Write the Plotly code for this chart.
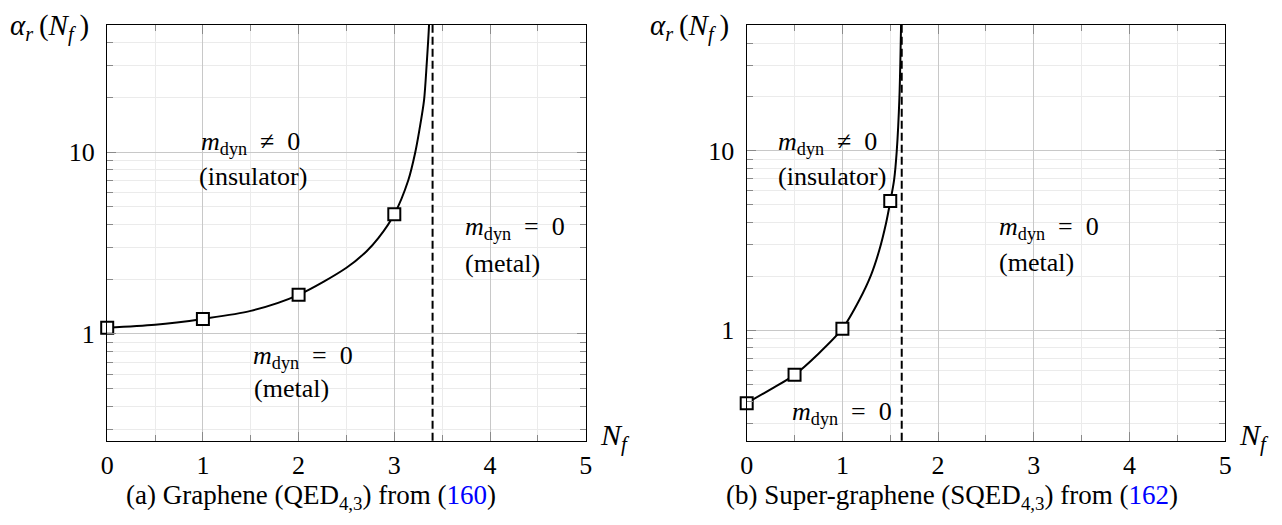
import math
import plotly.graph_objects as go

# ---------------- data ----------------
# (a) Graphene QED_{4,3}
nf_curve_a = [0.0, 0.5, 1.0, 1.5, 2.0, 2.5, 2.711, 2.833, 3.0, 3.147, 3.217, 3.262, 3.311, 3.339, 3.363, 3.372]
alpha_curve_a = [1.083, 1.123, 1.21, 1.339, 1.64, 2.31, 2.85, 3.36, 4.55, 7.02, 9.84, 13.2, 19.3, 30.7, 50.0, 70.0]
nf_marks_a = [0, 1, 2, 3]
alpha_marks_a = [1.083, 1.21, 1.64, 4.55]
nc_a = 3.40

# (b) Super-graphene SQED_{4,3}
nf_curve_b = [0.0, 0.25, 0.5, 0.75, 1.0, 1.177, 1.299, 1.386, 1.456, 1.5, 1.54, 1.568, 1.596, 1.613, 1.617]
alpha_curve_b = [0.392, 0.468, 0.564, 0.74, 1.02, 1.475, 2.03, 2.80, 3.95, 5.2, 6.87, 10.0, 20.0, 50.0, 70.0]
nf_marks_b = [0, 0.5, 1, 1.5]
alpha_marks_b = [0.392, 0.564, 1.02, 5.25]
nc_b = 1.62

x_ticks = [0, 1, 2, 3, 4, 5]
x_minor = [0.5, 1.5, 2.5, 3.5, 4.5]
y_ticks = [1, 10]
y_tick_text = ["1", "10"]
y_minor = [0.3, 0.4, 0.5, 0.6, 0.7, 0.8, 0.9, 2, 3, 4, 5, 6, 7, 8, 9, 20, 30, 40, 50]
y_range_a = [0.259, 49.9]
y_range_b = [0.242, 50.4]

# page has an 8px body margin: work in page pixels, convert to figure fractions
OFF = 8
W, H = 1282 - 2 * OFF, 525 - 2 * OFF
FONT = "Liberation Serif, Times New Roman, serif"
FS = 26


def fx(px):
    return (px - OFF) / W


def fy(py):
    return 1 - (py - OFF) / H


fig = go.Figure()


def add_panel(xa, ya, nf_c, al_c, nf_m, al_m):
    fig.add_trace(go.Scatter(x=nf_c, y=al_c, mode="lines",
                             line=dict(color="black", width=2, shape="spline", smoothing=0.8),
                             xaxis=xa, yaxis=ya, showlegend=False, hoverinfo="skip"))
    fig.add_trace(go.Scatter(x=nf_m, y=al_m, mode="markers",
                             marker=dict(symbol="square", size=12, color="white",
                                         line=dict(color="black", width=2)),
                             xaxis=xa, yaxis=ya, showlegend=False, cliponaxis=False))


add_panel("x", "y", nf_curve_a, alpha_curve_a, nf_marks_a, alpha_marks_a)
add_panel("x2", "y2", nf_curve_b, alpha_curve_b, nf_marks_b, alpha_marks_b)


def xaxis_cfg(dom, anchor):
    return dict(domain=dom, anchor=anchor, range=[0, 5], tickmode="array", tickvals=x_ticks,
                ticks="inside", ticklen=9, tickcolor="#8a8a8a", tickwidth=1,
                showgrid=True, gridcolor="#c8c8c8", gridwidth=1,
                showline=True, linecolor="black", linewidth=1.3, mirror="ticks",
                zeroline=False, tickfont=dict(family=FONT, size=FS, color="black"),
                ticklabelstandoff=1,
                minor=dict(tickmode="array", tickvals=x_minor, ticks="inside", ticklen=6,
                           tickcolor="#8a8a8a", showgrid=True, gridcolor="#ebebeb", gridwidth=1))


def yaxis_cfg(dom, rng, anchor):
    return dict(domain=dom, type="log", range=[math.log10(rng[0]), math.log10(rng[1])],
                tickmode="array", tickvals=y_ticks, ticktext=y_tick_text, anchor=anchor,
                ticks="inside", ticklen=9, tickcolor="#8a8a8a", tickwidth=1,
                showgrid=True, gridcolor="#c8c8c8", gridwidth=1,
                showline=True, linecolor="black", linewidth=1.3, mirror="ticks",
                zeroline=False, tickfont=dict(family=FONT, size=FS, color="black"),
                ticklabelstandoff=6,
                minor=dict(tickmode="array", tickvals=y_minor, ticks="inside", ticklen=6,
                           tickcolor="#8a8a8a", showgrid=True, gridcolor="#ebebeb", gridwidth=1))


ydom = [fy(440.7), fy(25)]
fig.update_layout(
    width=W, height=H, margin=dict(l=0, r=0, t=0, b=0, autoexpand=False),
    paper_bgcolor="white", plot_bgcolor="white",
    xaxis=xaxis_cfg([fx(107.2), fx(585.7)], "y"),
    yaxis=yaxis_cfg(ydom, y_range_a, "x"),
    xaxis2=xaxis_cfg([fx(746.7), fx(1225.2)], "y2"),
    yaxis2=yaxis_cfg(ydom, y_range_b, "x2"),
)

# critical N_f dashed lines
for xr, yr, nc in [("x", "y domain", nc_a), ("x2", "y2 domain", nc_b)]:
    fig.add_shape(type="line", xref=xr, yref=yr, x0=nc, x1=nc, y0=0, y1=1,
                  line=dict(color="black", width=2, dash="8px,4px"))

SP = "\u2002"
M0 = f"<i>m</i><sub>dyn</sub>{SP}={SP}0"
MN = f"<i>m</i><sub>dyn</sub>{SP}≠{SP}0"
labels = [
    (MN, 199, 143), ("(insulator)", 197, 177),
    (M0, 251, 357), ("(metal)", 252, 388),
    (M0, 463, 228), ("(metal)", 463, 263),
    (MN, 776, 143), ("(insulator)", 776, 177),
    (M0, 790, 413),
    (M0, 997, 228), ("(metal)", 997, 262),
]
for txt, px, py in labels:
    fig.add_annotation(text=txt, x=fx(px), y=fy(py), xref="paper", yref="paper",
                       xanchor="left", yanchor="middle", showarrow=False,
                       font=dict(family=FONT, size=FS, color="black"))

AL = "<i>α</i><sub><i>r</i></sub>\u2009(<i>N</i><sub><i>f</i></sub>\u2009)"
NF = "<i>N</i><sub><i>f</i></sub>"
for px in [8, 648]:
    fig.add_annotation(text=AL, x=fx(px), y=fy(28), xref="paper", yref="paper",
                       xanchor="left", yanchor="middle", showarrow=False,
                       font=dict(family=FONT, size=29, color="black"))
for px in [598, 1237]:
    fig.add_annotation(text=NF, x=fx(px), y=fy(437), xref="paper", yref="paper",
                       xanchor="left", yanchor="middle", showarrow=False,
                       font=dict(family=FONT, size=30, color="black"))

captions = [
    ("(a) Graphene (QED<sub>4,3</sub>) from (<span style='color:#0000ff'>160</span>)", 311),
    ("(b) Super-graphene (SQED<sub>4,3</sub>) from (<span style='color:#0000ff'>162</span>)", 952),
]
for txt, px in captions:
    fig.add_annotation(text=txt, x=fx(px), y=fy(497), xref="paper", yref="paper",
                       xanchor="center", yanchor="middle", showarrow=False,
                       font=dict(family=FONT, size=27, color="black"))

fig.write_html("out.html")
